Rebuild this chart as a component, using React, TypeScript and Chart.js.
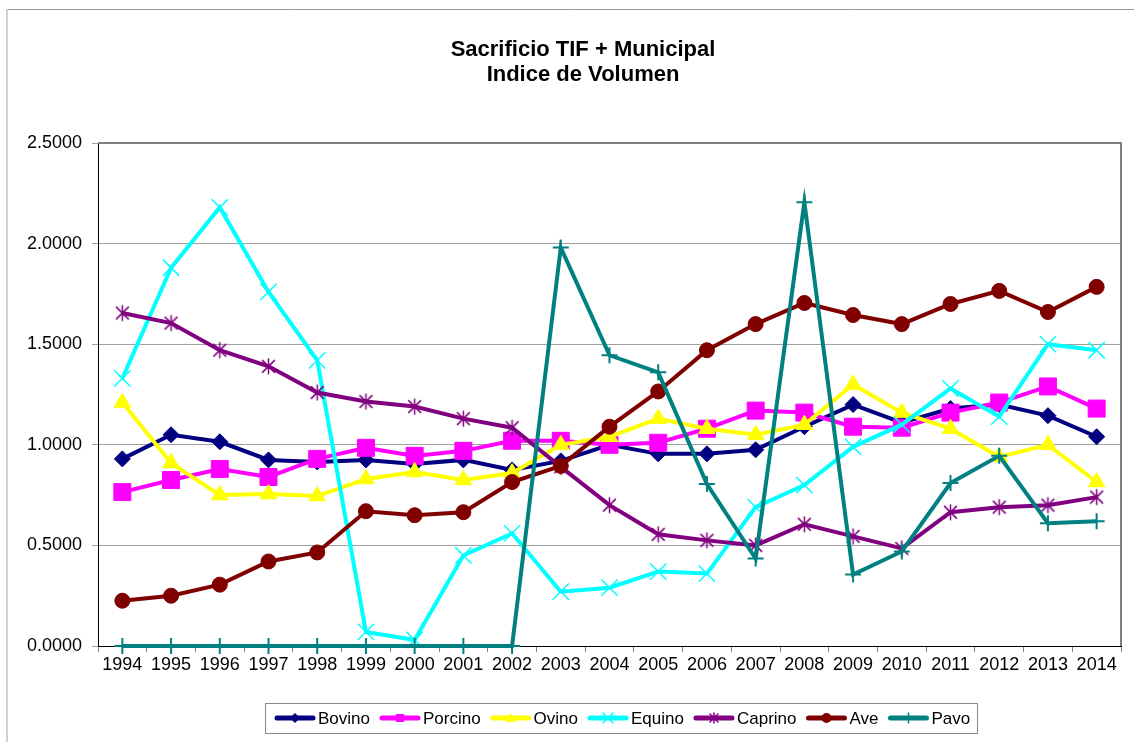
import React, { useEffect, useRef } from 'react';
import { Chart, registerables } from 'chart.js';

Chart.register(...registerables);

const FONT = '"Liberation Sans", Arial, Helvetica, sans-serif';

const titleLines = ['Sacrificio TIF + Municipal', 'Indice de Volumen'];

const years = ['1994', '1995', '1996', '1997', '1998', '1999', '2000', '2001', '2002', '2003', '2004',
  '2005', '2006', '2007', '2008', '2009', '2010', '2011', '2012', '2013', '2014'];

const yTicks = [0, 0.5, 1.0, 1.5, 2.0, 2.5];

const bovino = [0.93, 1.05, 1.015, 0.925, 0.915, 0.925, 0.905, 0.925, 0.875, 0.92, 1.0, 0.955, 0.955, 0.975, 1.09, 1.2, 1.11, 1.18, 1.2, 1.145, 1.04];
const porcino = [0.765, 0.825, 0.88, 0.84, 0.93, 0.985, 0.945, 0.97, 1.02, 1.02, 1.0, 1.01, 1.08, 1.17, 1.16, 1.09, 1.085, 1.16, 1.21, 1.29, 1.18];
const ovino = [1.21, 0.91, 0.75, 0.755, 0.745, 0.83, 0.865, 0.825, 0.86, 1.0, 1.04, 1.13, 1.08, 1.05, 1.1, 1.3, 1.16, 1.08, 0.94, 1.0, 0.815];
const equino = [1.33, 1.88, 2.18, 1.76, 1.42, 0.07, 0.03, 0.45, 0.56, 0.27, 0.29, 0.37, 0.36, 0.69, 0.8, 0.99, 1.1, 1.28, 1.14, 1.5, 1.47];
const caprino = [1.655, 1.605, 1.47, 1.39, 1.26, 1.215, 1.19, 1.13, 1.085, 0.89, 0.7, 0.555, 0.525, 0.5, 0.605, 0.545, 0.485, 0.665, 0.69, 0.7, 0.74];
const ave = [0.225, 0.25, 0.305, 0.42, 0.465, 0.67, 0.65, 0.665, 0.815, 0.895, 1.09, 1.265, 1.47, 1.6, 1.705, 1.645, 1.6, 1.7, 1.765, 1.66, 1.785];
const pavo = [0, 0, 0, 0, 0, 0, 0, 0, 0, 1.98, 1.445, 1.36, 0.805, 0.435, 2.205, 0.355, 0.47, 0.81, 0.945, 0.61, 0.62];

const seriesNames = ['Bovino', 'Porcino', 'Ovino', 'Equino', 'Caprino', 'Ave', 'Pavo'];
const seriesValues = [bovino, porcino, ovino, equino, caprino, ave, pavo];
const seriesColors = ['#000080', '#FF00FF', '#FFFF00', '#00FFFF', '#800080', '#800000', '#008080'];
const seriesMarkers = ['diamond', 'square', 'triangle', 'x', 'asterisk', 'circle', 'plus'];

function makeAsterisk(color: string, size: number, lw: number): HTMLCanvasElement {
  const c = document.createElement('canvas');
  c.width = size;
  c.height = size;
  const ctx = c.getContext('2d')!;
  const m = size / 2;
  const r = size / 2 - 1.5;
  ctx.strokeStyle = color;
  ctx.lineWidth = lw;
  ctx.beginPath();
  ctx.moveTo(m, m - r);
  ctx.lineTo(m, m + r);
  ctx.moveTo(m - r * 0.8, m - r * 0.8);
  ctx.lineTo(m + r * 0.8, m + r * 0.8);
  ctx.moveTo(m + r * 0.8, m - r * 0.8);
  ctx.lineTo(m - r * 0.8, m + r * 0.8);
  ctx.stroke();
  return c;
}

function drawMarker(ctx: CanvasRenderingContext2D, kind: string, x: number, y: number, s: number, color: string) {
  ctx.save();
  ctx.fillStyle = color;
  ctx.strokeStyle = color;
  ctx.lineWidth = 1.5;
  ctx.beginPath();
  if (kind === 'diamond') {
    ctx.moveTo(x, y - s);
    ctx.lineTo(x + s, y);
    ctx.lineTo(x, y + s);
    ctx.lineTo(x - s, y);
    ctx.closePath();
    ctx.fill();
  } else if (kind === 'square') {
    ctx.rect(x - s * 0.8, y - s * 0.8, s * 1.6, s * 1.6);
    ctx.fill();
  } else if (kind === 'triangle') {
    ctx.moveTo(x, y - s);
    ctx.lineTo(x + s, y + s * 0.8);
    ctx.lineTo(x - s, y + s * 0.8);
    ctx.closePath();
    ctx.fill();
  } else if (kind === 'circle') {
    ctx.arc(x, y, s, 0, Math.PI * 2);
    ctx.fill();
  } else if (kind === 'x') {
    ctx.moveTo(x - s, y - s);
    ctx.lineTo(x + s, y + s);
    ctx.moveTo(x + s, y - s);
    ctx.lineTo(x - s, y + s);
    ctx.stroke();
  } else if (kind === 'asterisk') {
    ctx.moveTo(x, y - s);
    ctx.lineTo(x, y + s);
    ctx.moveTo(x - s * 0.8, y - s * 0.8);
    ctx.lineTo(x + s * 0.8, y + s * 0.8);
    ctx.moveTo(x + s * 0.8, y - s * 0.8);
    ctx.lineTo(x - s * 0.8, y + s * 0.8);
    ctx.stroke();
  } else if (kind === 'plus') {
    ctx.moveTo(x, y - s);
    ctx.lineTo(x, y + s);
    ctx.moveTo(x - s, y);
    ctx.lineTo(x + s, y);
    ctx.stroke();
  }
  ctx.restore();
}

const decorPlugin = {
  id: 'decor',
  beforeDraw(chart: any) {
    const ctx: CanvasRenderingContext2D = chart.ctx;
    ctx.save();
    ctx.fillStyle = '#ffffff';
    ctx.fillRect(0, 0, chart.width, chart.height);
    // outer chart border (top and left visible)
    ctx.strokeStyle = '#9a9a9a';
    ctx.lineWidth = 1;
    ctx.beginPath();
    ctx.moveTo(7, 9.5);
    ctx.lineTo(chart.width, 9.5);
    ctx.stroke();
    ctx.strokeStyle = '#d0d0d0';
    ctx.lineWidth = 2;
    ctx.beginPath();
    ctx.moveTo(7, 9);
    ctx.lineTo(7, chart.height);
    ctx.stroke();
    // title
    ctx.fillStyle = '#000';
    ctx.font = `bold 22px ${FONT}`;
    ctx.textAlign = 'center';
    ctx.textBaseline = 'alphabetic';
    ctx.fillText(titleLines[0], 583, 56);
    ctx.fillText(titleLines[1], 583, 81);
    ctx.restore();
  },
  beforeDatasetsDraw(chart: any) {
    const ctx: CanvasRenderingContext2D = chart.ctx;
    const a = chart.chartArea;
    ctx.save();
    ctx.strokeStyle = '#808080';
    ctx.lineWidth = 2;
    ctx.beginPath();
    ctx.moveTo(a.left, a.top);
    ctx.lineTo(a.right, a.top);
    ctx.lineTo(a.right, a.bottom);
    ctx.stroke();
    ctx.restore();
  },
  afterDraw(chart: any) {
    const ctx: CanvasRenderingContext2D = chart.ctx;
    ctx.save();
    ctx.strokeStyle = '#8a8a8a';
    ctx.lineWidth = 1;
    ctx.strokeRect(265.5, 703.5, 712, 30);
    ctx.font = `17px ${FONT}`;
    ctx.textBaseline = 'middle';
    ctx.textAlign = 'left';
    const cy = 718;
    let x = 275;
    seriesNames.forEach((name, i) => {
      const color = seriesColors[i];
      ctx.strokeStyle = color;
      ctx.lineWidth = 5;
      ctx.lineCap = 'round';
      ctx.beginPath();
      ctx.moveTo(x + 2, cy);
      ctx.lineTo(x + 38, cy);
      ctx.stroke();
      drawMarker(ctx, seriesMarkers[i], x + 20, cy, 5, color);
      ctx.fillStyle = '#000';
      ctx.fillText(name, x + 43, cy + 1);
      x = x + 43 + ctx.measureText(name).width + 10;
    });
    ctx.restore();
  },
};

export default function App() {
  const ref = useRef<HTMLCanvasElement | null>(null);

  useEffect(() => {
    document.body.style.margin = '0';
    const canvas = ref.current;
    if (!canvas) return;

    const pointStyles: any[] = [
      'rectRot', 'rect', 'triangle', 'crossRot', makeAsterisk('#800080', 19, 1.5), 'circle', 'cross',
    ];
    const radii = [8, 12, 9.5, 11.5, 9, 7.5, 8];
    const pbw = [1, 1, 1, 1.5, 1.5, 1, 2];

    const datasets = seriesNames.map((name, i) => ({
      label: name,
      data: seriesValues[i],
      borderColor: seriesColors[i],
      backgroundColor: seriesColors[i],
      borderWidth: 4,
      pointStyle: pointStyles[i],
      pointRadius: radii[i],
      pointBackgroundColor: seriesColors[i],
      pointBorderColor: seriesColors[i],
      pointBorderWidth: pbw[i],
      tension: 0,
      fill: false,
      clip: false as any,
      order: seriesNames.length - 1 - i,
    }));

    const chart = new Chart(canvas, {
      type: 'line',
      data: { labels: years, datasets },
      options: {
        responsive: false,
        animation: false,
        events: [],
        layout: { padding: { top: 143, right: 6, left: 0, bottom: 0 } },
        plugins: {
          legend: { display: false },
          title: { display: false },
          tooltip: { enabled: false },
        },
        scales: {
          x: {
            type: 'category',
            offset: true,
            grid: {
              offset: true,
              drawOnChartArea: false,
              drawTicks: true,
              tickLength: 6,
              color: '#808080',
            },
            border: { color: '#000000', width: 1 },
            ticks: {
              color: '#000000',
              font: { family: FONT, size: 18 },
              padding: 2,
              maxRotation: 0,
              autoSkip: false,
            },
            afterFit: (s: any) => { s.height = 96; },
          },
          y: {
            min: 0,
            max: 2.5,
            afterBuildTicks: (s: any) => { s.ticks = yTicks.map((v) => ({ value: v })); },
            ticks: {
              color: '#000000',
              font: { family: FONT, size: 18 },
              padding: 10,
              callback: (v: any) => Number(v).toFixed(4),
            },
            grid: { color: '#a0a0a0', tickLength: 6, lineWidth: 1 },
            border: { color: '#000000', width: 1 },
            afterFit: (s: any) => { s.width = 98; },
          },
        },
      },
      plugins: [decorPlugin],
    });

    return () => chart.destroy();
  }, []);

  return (
    <div style={{ width: 1134, height: 742 }}>
      <canvas ref={ref} width={1134} height={742} style={{ display: 'block', width: 1134, height: 742 }} />
    </div>
  );
}
